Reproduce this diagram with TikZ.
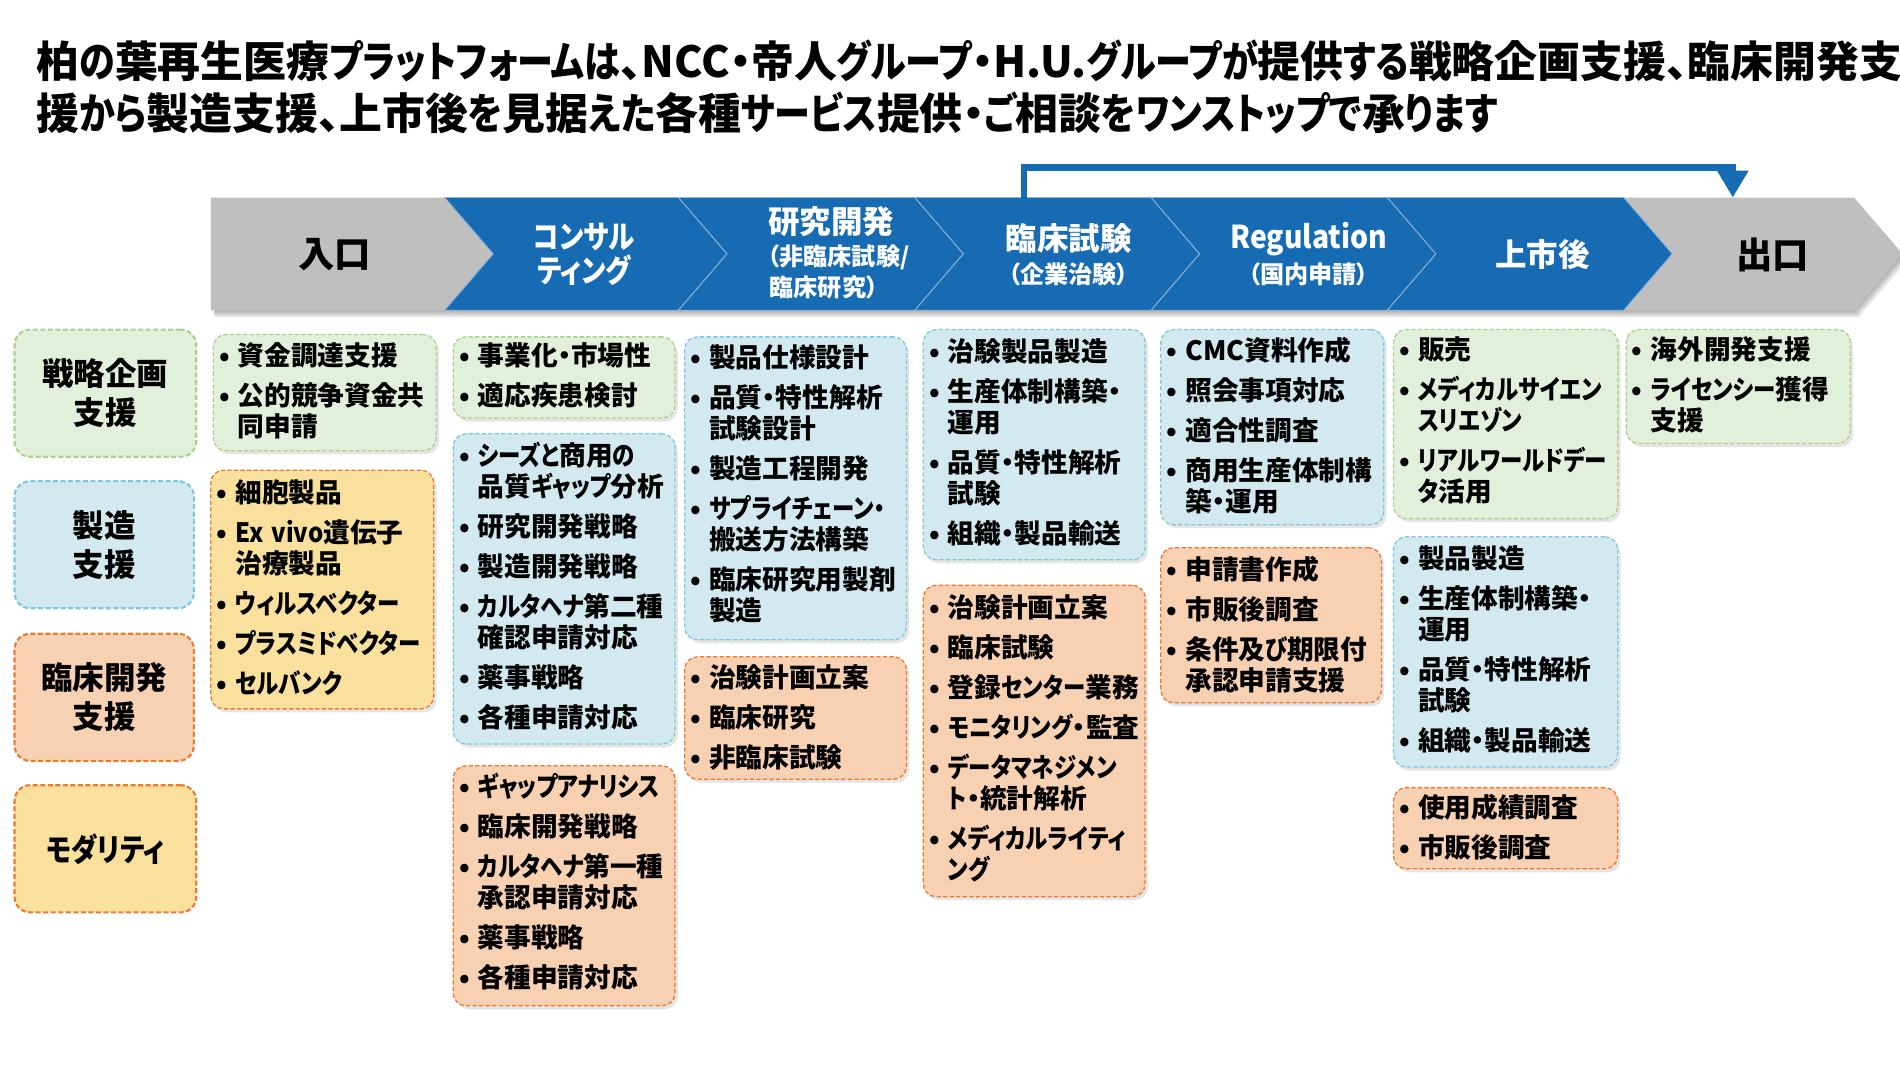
\documentclass[tikz,border=0pt]{standalone}
\usepackage{graphicx}
\usepackage{fontspec}
\setmainfont{Noto Sans CJK JP}[RawFeature=+palt]
\usetikzlibrary{shadows,arrows.meta}
\definecolor{bannerblue}{HTML}{176BB3}
\definecolor{bannergray}{HTML}{BFBFBF}
\definecolor{sepline}{HTML}{8FB3D9}
\definecolor{gfill}{HTML}{E2EFDA}
\definecolor{gline}{HTML}{A9D18E}
\definecolor{bfill}{HTML}{D1E9EF}
\definecolor{bline}{HTML}{7DC9DC}
\definecolor{pfill}{HTML}{F8D0B2}
\definecolor{yfill}{HTML}{F9E19D}
\definecolor{oline}{HTML}{EB7A2E}
\newcommand\kn[1]{\scalebox{0.84}[1]{#1}}
\newcommand\bodyfont{\fontsize{18.8pt}{21.8pt}\selectfont\bfseries}
\newcommand\catfont{\fontsize{22.2pt}{27.3pt}\selectfont\bfseries}
\newcommand\hfont{\fontsize{22.2pt}{23.9pt}\selectfont\bfseries}
\newcommand\hsmall{\fontsize{17pt}{20pt}\selectfont\bfseries}
\newcommand\hbig{\fontsize{25.6pt}{28pt}\selectfont\bfseries}
\newcommand\titlefont{\fontsize{30.2pt}{33pt}\selectfont\bfseries}
\newcommand\itm[1]{\noindent\hangindent=15.4pt\hangafter=1\makebox[11.9pt][c]{•}\hspace{3.5pt}#1\par}
\newcommand\nitm[1]{\vskip6.4pt\itm{#1}}
\tikzset{
  cbox/.style 2 args={draw=#2, fill=#1, rounded corners=9pt, dash pattern=on 3pt off 1.6pt,
    line width=0.9pt, inner sep=0pt, outer sep=0pt,
    drop shadow={shadow xshift=2pt, shadow yshift=-2.5pt, opacity=0.2}},
  kbox/.style 2 args={draw=#2, fill=#1, rounded corners=11pt, dash pattern=on 3.5pt off 1.8pt,
    line width=1.5pt, inner sep=0pt, font=\catfont, align=center},
  bodytxt/.style={inner sep=0pt, text width=260pt, align=left, font=\bodyfont},
  wlab/.style={inner sep=0pt, text=white, font=\hfont, align=center},
  chev/.style={fill=bannerblue, draw=sepline, line width=0.6pt},
}
\newcommand\cbx[9]{%
  \node[cbox={#2}{#3}, anchor=north west, minimum width={(#6-#4)*0.03cm},
        minimum height={(#7-#5)*0.03cm}] (#1) at (#4,#5) {};
  \node[bodytxt, anchor=base west] (#1t) at ({#4+2},{#8+8.4}) {#9};
}
\newcommand\chevron[3]{%
  \path[#1] (#2,163) -- (#3,163) -- ({#3+40},209.5) -- (#3,256) -- (#2,256) -- ({#2+40},209.5) -- cycle;
}
\begin{document}
\begin{tikzpicture}[x=0.03cm, y=-0.03cm]
\useasboundingbox (0,0) rectangle (1568,880.5);
\fill[white] (0,0) rectangle (1568,880.5);

% title
\node[anchor=base west, inner sep=0pt, font=\titlefont] (t1) at (30,64)
  {柏\kn{の}葉再生医療\kn{プラットフォームは}、NCC・帝人\kn{グループ}・H.U.\kn{グループが}提供\kn{する}戦略企画支援、臨床開発支};
\node[anchor=base west, inner sep=0pt, font=\titlefont] (t2) at (30,107)
  {援\kn{から}製造支援、上市後\kn{を}見据\kn{えた}各種\kn{サービス}提供・\kn{ご}相談\kn{をワンストップで}承\kn{ります}};

% banner shadow
\foreach \s in {2,4,6} {
  \fill[black, opacity=0.1, shift={(\s*0.6,\s)}] (174,163) -- (1530,163) -- (1570,209.5) -- (1530,256) -- (174,256) -- cycle;
}
% banner
\chevron{fill=bannergray}{1340}{1530}
\path[fill=bannergray] (174,163) -- (367,163) -- (407,209.5) -- (367,256) -- (174,256) -- cycle;
\chevron{chev}{367}{560}
\chevron{chev}{560}{755}
\chevron{chev}{755}{950}
\chevron{chev}{950}{1145}
\chevron{chev}{1145}{1340}

\node[inner sep=0pt, font=\hbig] (h1) at (276,210) {入口};
\node[wlab] (h2) at (482,210) {\kn{コンサル}\\\kn{ティング}};
\node[wlab] (h3a) at (686,183) {研究開発};
\node[wlab, font=\hsmall] (h3b) at (692,212) {（非臨床試験/};
\node[wlab, font=\hsmall] (h3c) at (680,237) {臨床研究）};
\node[wlab] (h4a) at (882,197) {臨床試験};
\node[wlab, font=\hsmall] (h4b) at (882,226) {（企業治験）};
\node[wlab] (h5a) at (1080,197) {\scalebox{0.9}[1]{Regulation}};
\node[wlab, font=\hsmall] (h5b) at (1080,226) {（国内申請）};
\node[wlab] (h6) at (1273,210) {上市後};
\node[inner sep=0pt, font=\hbig] (h7) at (1463,210) {出口};

% arrow over the banner
\coordinate (aS) at (845,163);
\coordinate (aE) at (1430,163);
\coordinate (aY) at (0,138);
\draw[bannerblue, line width=4.7pt, -{Triangle[length=19pt, width=21pt]}]
  (aS) -- (aS |- aY) -- (aE |- aY) -- (aE);

% category boxes
\node[kbox={gfill}{gline}, minimum width=128pt, minimum height=89.6pt] (k1) at (87,324.5) {戦略企画\\支援};
\node[kbox={bfill}{bline}, minimum width=126.3pt, minimum height=89.6pt] (k2) at (86,449.5) {製造\\支援};
\node[kbox={pfill}{oline}, minimum width=126.3pt, minimum height=89.6pt] (k3) at (86,575.5) {臨床開発\\支援};
\node[kbox={yfill}{oline}, minimum width=128pt, minimum height=89.6pt] (k4) at (87,700.5) {\kn{モダリティ}};

% column 1
\cbx{c1g}{gfill}{gline}{176}{276}{360}{372}{293}{%
  \itm{資金調達支援}\nitm{公的競争資金共\newline 同申請}}
\cbx{c1y}{yfill}{oline}{174}{388}{358}{585}{406}{%
  \itm{細胞製品}\nitm{\scalebox{0.9}[1]{Ex~vivo}遺伝子\newline 治療製品}\nitm{\kn{ウィルスベクター}}\nitm{\kn{プラスミドベクター}}\nitm{\kn{セルバンク}}}
% column 2
\cbx{c2g}{gfill}{gline}{374}{278}{557}{345}{293}{%
  \itm{事業化・市場性}\nitm{適応疾患検討}}
\cbx{c2b}{bfill}{bline}{374}{358}{557}{614}{376}{%
  \itm{\kn{シーズと}商用\kn{の}\newline 品質\kn{ギャップ}分析}\nitm{研究開発戦略}\nitm{製造開発戦略}\nitm{\kn{カルタヘナ}第二種\newline 確認申請対応}\nitm{薬事戦略}\nitm{各種申請対応}}
\cbx{c2p}{pfill}{oline}{374}{632}{557}{830}{649}{%
  \itm{\kn{ギャップアナリシス}}\nitm{臨床開発戦略}\nitm{\kn{カルタヘナ}第一種\newline 承認申請対応}\nitm{薬事戦略}\nitm{各種申請対応}}
% column 3
\cbx{c3b}{bfill}{bline}{565}{278}{748}{528}{295}{%
  \itm{製品仕様設計}\nitm{品質・特性解析\newline 試験設計}\nitm{製造工程開発}\nitm{\kn{サプライチェーン・}\newline 搬送方法構築}\nitm{臨床研究用製剤\newline 製造}}
\cbx{c3p}{pfill}{oline}{565}{542}{748}{643}{559}{%
  \itm{治験計画立案}\nitm{臨床研究}\nitm{非臨床試験}}
% column 4
\cbx{c4b}{bfill}{bline}{762}{272}{945}{462}{290}{%
  \itm{治験製品製造}\nitm{生産体制構築・\newline 運用}\nitm{品質・特性解析\newline 試験}\nitm{組織・製品輸送}}
\cbx{c4p}{pfill}{oline}{762}{483}{945}{740}{501}{%
  \itm{治験計画立案}\nitm{臨床試験}\nitm{登録\kn{センター}業務}\nitm{\kn{モニタリング}・監査}\nitm{\kn{データマネジメン}\newline \kn{ト}・統計解析}\nitm{\kn{メディカルライティ}\newline \kn{ング}}}
% column 5
\cbx{c5b}{bfill}{bline}{958}{272}{1142}{433}{289}{%
  \itm{CMC資料作成}\nitm{照会事項対応}\nitm{適合性調査}\nitm{商用生産体制構\newline 築・運用}}
\cbx{c5p}{pfill}{oline}{958}{452}{1140}{580}{470}{%
  \itm{申請書作成}\nitm{市販後調査}\nitm{条件及\kn{び}期限付\newline 承認申請支援}}
% column 6
\cbx{c6g}{gfill}{gline}{1150}{272}{1335}{428}{288}{%
  \itm{販売}\nitm{\kn{メディカルサイエン}\newline \kn{スリエゾン}}\nitm{\kn{リアルワールドデー}\newline \kn{タ}活用}}
\cbx{c6b}{bfill}{bline}{1150}{443}{1335}{633}{461}{%
  \itm{製品製造}\nitm{生産体制構築・\newline 運用}\nitm{品質・特性解析\newline 試験}\nitm{組織・製品輸送}}
\cbx{c6p}{pfill}{oline}{1150}{650}{1335}{717}{666}{%
  \itm{使用成績調査}\nitm{市販後調査}}
% column 7
\cbx{c7g}{gfill}{gline}{1342}{272}{1527}{366}{288}{%
  \itm{海外開発支援}\nitm{\kn{ライセンシー}獲得\newline 支援}}
\end{tikzpicture}
\end{document}
